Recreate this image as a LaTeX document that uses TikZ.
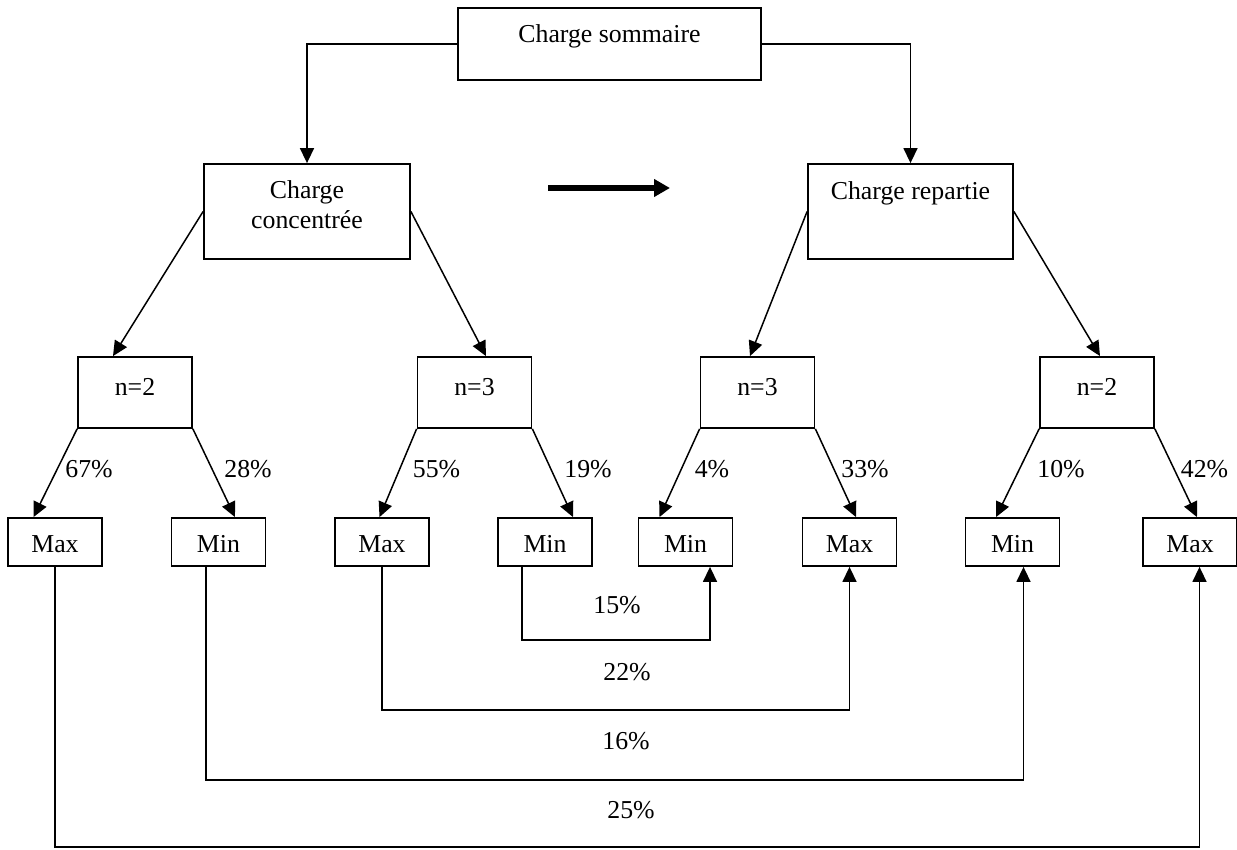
\documentclass[tikz,border=0pt]{standalone}
\usepackage{fontspec}
\setmainfont{Liberation Serif}
\usetikzlibrary{arrows.meta}
\begin{document}
\begin{tikzpicture}[x=1pt,y=-1pt,
  box/.style={draw, line width=1.8pt, inner sep=0pt},
  smallbox/.style={box, minimum width=94pt, minimum height=48pt, font=\fontsize{25.8pt}{30pt}\selectfont, text height=21pt, text depth=0pt},
  nbox/.style={box, minimum width=114pt, minimum height=71pt},
  txt/.style={font=\fontsize{25.8pt}{30pt}\selectfont, inner sep=0pt, anchor=base, align=center},
  arr/.style={line width=1.5pt, -{Triangle[length=15pt,width=14pt]}},
  con/.style={line width=1.5pt}]
\useasboundingbox (0,0) rectangle (1237,850);

% boxes
\node[box, minimum width=303pt, minimum height=72pt] (top) at (609.5,44) {};
\node[txt] (topT) at (609.5,43) {Charge sommaire};
\node[box, minimum width=206pt, minimum height=95pt] (cc) at (307,211.5) {};
\node[txt] (ccT) at (307,229) {Charge\\concentrée};
\node[box, minimum width=205pt, minimum height=95pt] (cr) at (910.5,211.5) {};
\node[txt] (crT) at (910.5,200) {Charge repartie};

\node[nbox] (n2L) at (135,392.5) {};
\node[txt] (n2LT) at (135,395) {n=2};
\node[nbox] (n3L) at (474.5,392.5) {};
\node[txt] (n3LT) at (474.5,395) {n=3};
\node[nbox] (n3R) at (757.5,392.5) {};
\node[txt] (n3RT) at (757.5,395) {n=3};
\node[nbox] (n2R) at (1097,392.5) {};
\node[txt] (n2RT) at (1097,395) {n=2};

\node[smallbox] (max1) at (55,542) {Max};
\node[smallbox] (min1) at (218.5,542) {Min};
\node[smallbox] (max2) at (382,542) {Max};
\node[smallbox] (min2) at (545,542) {Min};
\node[smallbox] (min3) at (685.5,542) {Min};
\node[smallbox] (max3) at (849.5,542) {Max};
\node[smallbox] (min4) at (1012.5,542) {Min};
\node[smallbox] (max4) at (1190,542) {Max};

% thick arrow
\coordinate (hA) at (548,188);
\coordinate (hB) at (670,188);
\draw[line width=6pt, -{Triangle[length=16pt,width=17pt]}] (hA) -- (hB);

% top connectors
\draw[arr] (top.west) -| (cc.north);
\draw[arr] (top.east) -| (cr.north);

\draw[arr] (cc.west) -- ([xshift=-22pt]n2L.north);
\draw[arr] (cc.east) -- ([xshift=11.5pt]n3L.north);
\draw[arr] (cr.west) -- ([xshift=-7.5pt]n3R.north);
\draw[arr] (cr.east) -- ([xshift=3pt]n2R.north);

\draw[arr] (n2L.south west) -- ([xshift=-21.5pt]max1.north);
\draw[arr] (n2L.south east) -- ([xshift=16.5pt]min1.north);
\draw[arr] (n3L.south west) -- ([xshift=-2.5pt]max2.north);
\draw[arr] (n3L.south east) -- ([xshift=28pt]min2.north);
\draw[arr] (n3R.south west) -- ([xshift=-26pt]min3.north);
\draw[arr] (n3R.south east) -- ([xshift=6.5pt]max3.north);
\draw[arr] (n2R.south west) -- ([xshift=-16.5pt]min4.north);
\draw[arr] (n2R.south east) -- ([xshift=7pt]max4.north);

% branch labels
\node[txt] (p67) at (89,477) {67\%};
\node[txt] (p28) at (248,477) {28\%};
\node[txt] (p55) at (436.5,477) {55\%};
\node[txt] (p19) at (588,477) {19\%};
\node[txt] (p4) at (712,477) {4\%};
\node[txt] (p33) at (865,477) {33\%};
\node[txt] (p10) at (1061,477) {10\%};
\node[txt] (p42) at (1204.5,477) {42\%};

% bottom connectors
\draw[arr] ([xshift=-23pt]min2.south) -- ++(0,73) -| ([xshift=24.5pt]min3.south);
\draw[arr] (max2.south) -- ++(0,143) -| (max3.south);
\draw[arr] ([xshift=-12.5pt]min1.south) -- ++(0,213) -| ([xshift=11pt]min4.south);
\draw[arr] (max1.south) -- ++(0,280) -| ([xshift=9.5pt]max4.south);

\node[txt] (p15) at (617,613) {15\%};
\node[txt] (p22) at (627,680) {22\%};
\node[txt] (p16) at (626,749) {16\%};
\node[txt] (p25) at (631,818) {25\%};
\end{tikzpicture}
\end{document}
